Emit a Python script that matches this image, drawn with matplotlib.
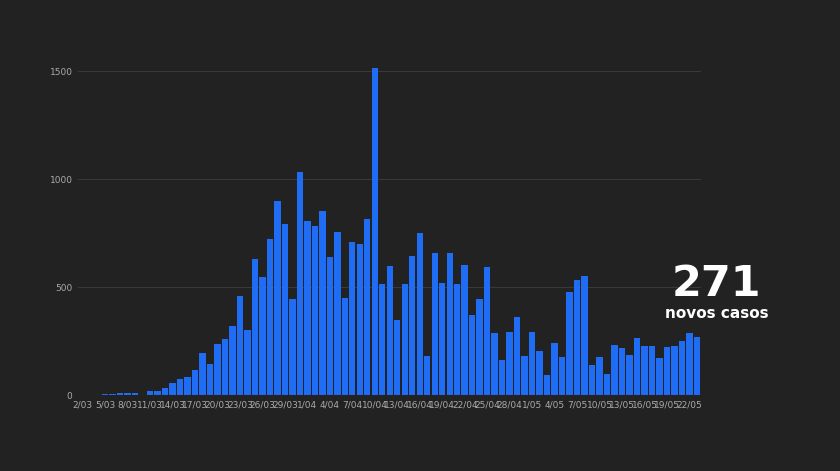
import matplotlib.pyplot as plt
import numpy as np

march = [2, 2, 1, 4, 4, 8, 9, 9, 0, 18, 19, 34, 57, 76, 86, 117, 194, 143, 235, 260,
         320, 460, 302, 633, 549, 724, 902, 792, 446, 1035]
april = [808, 783, 852, 638, 754, 452, 712, 699, 815, 1516, 515, 598, 349, 514, 643,
         750, 181, 657, 521, 657, 516, 603, 371, 444, 595, 290, 163, 295, 360, 183]
may = [295, 203, 92, 242, 178, 480, 533, 553, 138, 175, 98, 234, 219, 187, 264,
       226, 226, 173, 223, 228, 252, 288, 271]

labels = ([f"{d}/03" for d in range(2, 32)] + [f"{d}/04" for d in range(1, 31)]
          + [f"{d}/05" for d in range(1, 24)])
values = march + april + may

bg = '#222222'
fig = plt.figure(figsize=(8.4, 4.71), dpi=100, facecolor=bg)
ax = fig.add_axes([0.093, 0.161, 0.742, 0.756], facecolor=bg)
x = np.arange(len(values))
ax.bar(x, values, width=0.85, color='#1f6cf5', zorder=2)
ax.set_xlim(-0.6, len(values) - 0.4)
ax.set_ylim(0, 1650)
ax.set_yticks([0, 500, 1000, 1500])
ax.set_xticks(x[::3])
ax.set_xticklabels(labels[::3], fontfamily='Liberation Sans Narrow')
ax.tick_params(colors='#aaaaaa', labelsize=6.5, length=0, pad=4)
ax.grid(axis='y', color='#3a3a3a', linewidth=0.7, zorder=0)
for s in ax.spines.values():
    s.set_visible(False)
ax.axhline(0, color='#555555', linewidth=0.8, zorder=3)

fig.text(0.853, 0.352, str(values[-1]), color='white', fontsize=31,
         fontweight='bold', ha='center', va='bottom', family='DejaVu Sans')
fig.text(0.853, 0.318, 'novos casos', color='white', fontsize=11,
         fontweight='bold', ha='center', va='bottom', family='DejaVu Sans')

fig.savefig('out.png', facecolor=bg)
